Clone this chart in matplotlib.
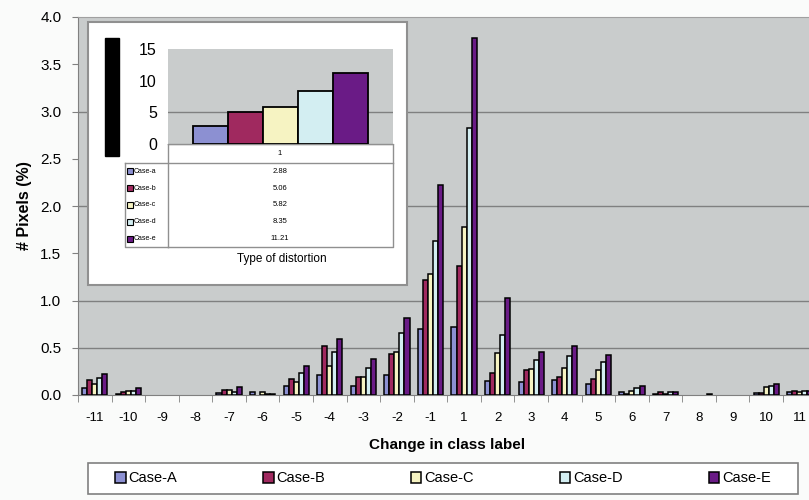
import numpy as np
import matplotlib.pyplot as plt
from matplotlib.patches import Rectangle

plt.rcParams['font.family'] = ['Liberation Sans', 'DejaVu Sans']

# Data
classes = ['-11', '-10', '-9', '-8', '-7', '-6', '-5', '-4', '-3', '-2', '-1',
           '1', '2', '3', '4', '5', '6', '7', '8', '9', '10', '11']
case_a = [0.07, 0.01, 0, 0, 0.02, 0.03, 0.10, 0.21, 0.10, 0.21, 0.70,
          0.72, 0.15, 0.14, 0.16, 0.12, 0.03, 0.01, 0, 0, 0.02, 0.03]
case_b = [0.16, 0.03, 0, 0, 0.05, 0.0, 0.17, 0.52, 0.19, 0.43, 1.22,
          1.36, 0.23, 0.26, 0.19, 0.17, 0.01, 0.03, 0, 0, 0.02, 0.04]
case_c = [0.12, 0.04, 0, 0, 0.05, 0.03, 0.14, 0.31, 0.19, 0.45, 1.28,
          1.78, 0.44, 0.27, 0.29, 0.26, 0.04, 0.01, 0, 0, 0.08, 0.03]
case_d = [0.18, 0.04, 0, 0, 0.03, 0.01, 0.23, 0.45, 0.29, 0.66, 1.63,
          2.83, 0.64, 0.37, 0.41, 0.35, 0.07, 0.03, 0, 0, 0.09, 0.04]
case_e = [0.22, 0.07, 0, 0, 0.08, 0.01, 0.31, 0.59, 0.38, 0.82, 2.22,
          3.78, 1.03, 0.45, 0.52, 0.42, 0.09, 0.03, 0.01, 0, 0.12, 0.04]
series_names = ['Case-A', 'Case-B', 'Case-C', 'Case-D', 'Case-E']
colors = ['#8c90d2', '#a0295f', '#f6f3c2', '#d3eef2', '#6a1b86']

# inset data
inset_names = ['Case-a', 'Case-b', 'Case-c', 'Case-d', 'Case-e']
inset_vals = [2.88, 5.06, 5.82, 8.35, 11.21]

W, H = 809, 500
fig = plt.figure(figsize=(W / 100, H / 100), dpi=100, facecolor='#fafbfa')

def box(x0, y0, x1, y1):
    # pixel box (top-left origin) -> figure fraction rect
    return [x0 / W, 1 - y1 / H, (x1 - x0) / W, (y1 - y0) / H]

# Main chart
ax = fig.add_axes(box(78, 17, 816.6, 395))
ax.set_facecolor('#c9cccc')
x = np.arange(len(classes))
bw = 0.15
for i, vals in enumerate([case_a, case_b, case_c, case_d, case_e]):
    bars = ax.bar(x + (i - 2) * bw, vals, bw, color=colors[i], edgecolor='black',
                  linewidth=1.1, label=series_names[i], zorder=3)
    for b, v in zip(bars, vals):
        if v == 0:
            b.set_linewidth(0)  # empty classes show no outline
for g in [0.5, 1.0, 2.0, 3.0]:
    ax.axhline(g, color='#7f8080', linewidth=1, zorder=1)
ax.set_xlim(-0.5, len(classes) - 0.5)
ax.set_ylim(0, 4.0)
ax.set_yticks(np.arange(0, 4.01, 0.5))
ax.set_yticklabels(['%.1f' % v for v in np.arange(0, 4.01, 0.5)], fontsize=11)
ax.set_xticks(x)
ax.set_xticklabels(classes, fontsize=9.5)
ax.set_xticks(np.arange(-0.5, len(classes), 1), minor=True)
ax.tick_params(axis='x', which='major', length=0, pad=12)
ax.tick_params(axis='x', which='minor', length=5, color='#808080')
ax.tick_params(axis='y', length=4, color='#808080', pad=8)
ax.spines['right'].set_visible(False)
ax.spines['top'].set_color('#a0a0a0')
ax.spines['left'].set_color('#808080')
ax.spines['bottom'].set_color('#808080')
ax.set_xlabel('Change in class label', fontsize=11, fontweight='bold', labelpad=10)
ax.set_ylabel('# Pixels (%)', fontsize=11.5, fontweight='bold', labelpad=6)

leg = fig.legend(loc='center', bbox_to_anchor=(88 / W, 1 - 494 / H, 710 / W, 31 / H),
                 ncol=5, fontsize=10.5, frameon=False,
                 handlelength=0.7, handleheight=0.7, handletextpad=0.2,
                 columnspacing=5.9, borderaxespad=0)
fig.patches.append(Rectangle((88 / W, 1 - 494 / H), 710 / W, 31 / H,
                             transform=fig.transFigure, facecolor='white',
                             edgecolor='#808080', linewidth=1.2, zorder=0))

# Inset: white panel
fig.patches.append(Rectangle((88 / W, 1 - 285 / H), 319 / W, 263 / H,
                             transform=fig.transFigure, facecolor='white',
                             edgecolor='#909090', linewidth=1.5, zorder=5))
fig.patches.append(Rectangle((105 / W, 1 - 156 / H), 14 / W, 118 / H,
                             transform=fig.transFigure, facecolor='black',
                             edgecolor='black', zorder=6))

ax2 = fig.add_axes(box(168, 49, 393, 144), zorder=7)
ax2.set_facecolor('#c9cccc')
ix = np.arange(len(inset_vals)) - 2
ax2.bar(ix, inset_vals, 1.0, color=colors, edgecolor='black', linewidth=1.3, zorder=3)
ax2.axhline(5, color='#7f8080', linewidth=1, zorder=1)
ax2.set_xlim(-3.21, 3.21)
ax2.set_ylim(0, 15)
ax2.set_yticks([0, 5, 10, 15])
ax2.tick_params(axis='y', labelsize=11.5, length=0, pad=8)
ax2.set_xticks([])
for s in ['top', 'right', 'left']:
    ax2.spines[s].set_visible(False)
ax2.spines['bottom'].set_color('black')

# Inset data table (pixel coordinates)
at = fig.add_axes(box(120, 144, 395, 265), zorder=7)
at.set_xlim(120, 395)
at.set_ylim(265, 144)
at.axis('off')
lc = '#909090'
at.plot([168, 393, 393, 168], [144, 144, 247, 247], color=lc, linewidth=1)
at.plot([125, 393], [163, 163], color=lc, linewidth=1)
at.plot([125, 125, 168], [163, 247, 247], color=lc, linewidth=1)
at.plot([168, 168], [144, 247], color=lc, linewidth=1)
at.text(280, 153.5, '1', fontsize=5.5, ha='center', va='center')
row_h = (247 - 163) / len(inset_names)
for k, (nm, v) in enumerate(zip(inset_names, inset_vals)):
    yc = 163 + row_h * (k + 0.5)
    at.plot(130, yc, marker='s', markersize=4.5, color=colors[k],
            markeredgecolor='black', markeredgewidth=0.8)
    at.text(134, yc, nm, fontsize=5, ha='left', va='center')
    at.text(280, yc, '%.2f' % v, fontsize=5.5, ha='center', va='center')
at.text(282, 259, 'Type of distortion', fontsize=8.5, ha='center', va='center')

fig.savefig('out.png', dpi=100, facecolor=fig.get_facecolor())
